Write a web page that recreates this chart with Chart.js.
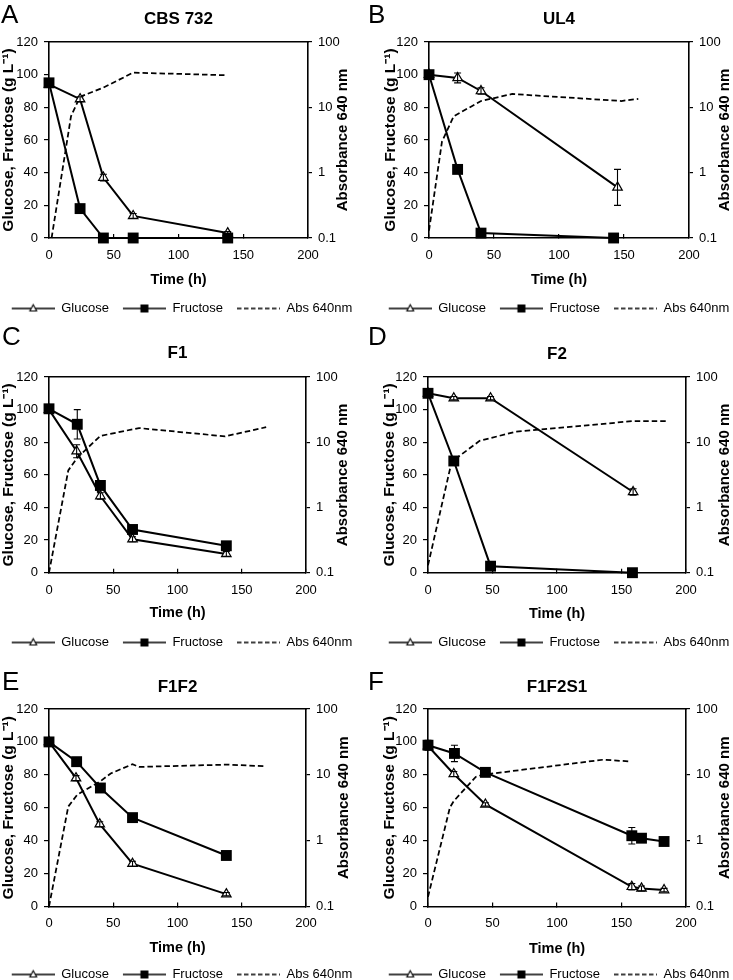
<!DOCTYPE html>
<html>
<head>
<meta charset="utf-8">
<script src="https://cdn.jsdelivr.net/npm/chart.js@4.4.0/dist/chart.umd.min.js"></script>
<style>
  html, body { margin: 0; padding: 0; background: #fff; overflow: hidden; }
  #page { position: relative; width: 733px; height: 980px; overflow: hidden;
          font-family: "Liberation Sans", Arial, Helvetica, sans-serif; }
  canvas { position: absolute; }
  .letter { position: absolute; font-size: 26px; line-height: 1; color: #000; }
</style>
</head>
<body>
<div id="page">
  <canvas id="chartA" width="366" height="325" style="left:0;top:0"></canvas>
  <canvas id="chartB" width="367" height="325" style="left:366px;top:0"></canvas>
  <canvas id="chartC" width="366" height="339" style="left:0;top:320px"></canvas>
  <canvas id="chartD" width="367" height="339" style="left:366px;top:320px"></canvas>
  <canvas id="chartE" width="366" height="341" style="left:0;top:650px"></canvas>
  <canvas id="chartF" width="367" height="341" style="left:366px;top:650px"></canvas>
  <div class="letter" style="left:1px;top:1px">A</div>
  <div class="letter" style="left:368px;top:1px">B</div>
  <div class="letter" style="left:2px;top:323px">C</div>
  <div class="letter" style="left:368px;top:323px">D</div>
  <div class="letter" style="left:2px;top:668px">E</div>
  <div class="letter" style="left:368px;top:668px">F</div>
</div>
<script>
// ---- data ----
// A: CBS 732
var cbsGlucoseTime = [0, 24, 42, 65, 138];
var cbsGlucose = [94, 85, 37, 13.5, 3];
var cbsGlucoseErr = [0, 1.5, 2, 1.5, 1];
var cbsFructoseTime = [0, 24, 42, 65, 138];
var cbsFructose = [95, 18, 0, 0, 0];
var cbsFructoseErr = [0, 0, 0, 0, 0];
var cbsAbsTime = [2, 17, 24, 42, 65, 137];
var cbsAbs = [0.1, 7.3, 14.5, 20, 34, 31];

// B: UL4
var ul4GlucoseTime = [0, 22, 40, 145];
var ul4Glucose = [100, 98, 90, 31];
var ul4GlucoseErr = [0, 3, 2, 11];
var ul4FructoseTime = [0, 22, 40, 142];
var ul4Fructose = [100, 42, 3, 0];
var ul4FructoseErr = [0, 0, 0, 0];
var ul4AbsTime = [0, 10, 19, 40, 64, 148, 161];
var ul4Abs = [0.13, 3, 7.3, 12.5, 16, 12.5, 13.5];

// C: F1
var f1GlucoseTime = [0, 21.5, 40, 65, 138];
var f1Glucose = [100, 74.5, 47, 20.5, 11.5];
var f1GlucoseErr = [0, 4, 2, 1.5, 1.5];
var f1FructoseTime = [0, 22, 40, 65, 138];
var f1Fructose = [100.5, 91, 53.5, 26.5, 16.5];
var f1FructoseErr = [0, 9, 2, 1, 1];
var f1AbsTime = [0, 15, 22, 40, 70, 137, 169];
var f1Abs = [0.1, 3.7, 5.8, 12.5, 16.5, 12.3, 17];

// D: F2
var f2GlucoseTime = [0, 20, 48.5, 159];
var f2Glucose = [110, 107, 107, 49.5];
var f2GlucoseErr = [0, 1, 1, 2];
var f2FructoseTime = [0, 20, 48.5, 158.5];
var f2Fructose = [110, 68.5, 4, 0];
var f2FructoseErr = [0, 2, 0.5, 0];
var f2AbsTime = [0, 18, 21, 40, 68, 100, 158, 185];
var f2Abs = [0.13, 4.7, 5.5, 10.5, 14.5, 16.5, 21, 21];

// E: F1F2
var f1f2GlucoseTime = [0, 21, 39.5, 65, 138];
var f1f2Glucose = [100, 78, 50, 26, 7.5];
var f1f2GlucoseErr = [0, 1.5, 1.5, 1.5, 1];
var f1f2FructoseTime = [0, 21.5, 40, 65, 138];
var f1f2Fructose = [100, 88, 72, 54, 31];
var f1f2FructoseErr = [0, 0, 0, 0, 0];
var f1f2AbsTime = [0, 15, 22, 40, 48, 65, 70, 140, 167];
var f1f2Abs = [0.1, 3.3, 5, 8, 10.5, 14.5, 13.2, 14.3, 13.5];

// F: F1F2S1
var f1f2s1GlucoseTime = [0, 20, 44.5, 158, 165.5, 183];
var f1f2s1Glucose = [97.5, 80.5, 62, 12, 11, 10];
var f1f2s1GlucoseErr = [1, 1.5, 1, 2, 1.5, 1];
var f1f2s1FructoseTime = [0, 20.5, 44.5, 158, 165.5, 183];
var f1f2s1Fructose = [98, 93, 81.5, 43, 41.5, 39.5];
var f1f2s1FructoseErr = [3, 5, 1, 5, 2, 1];
var f1f2s1AbsTime = [0, 17, 20, 37, 42, 136, 156];
var f1f2s1Abs = [0.14, 3.2, 4, 9.3, 10, 17, 16];

var absTicks = [0.1, 1, 10, 100];
var seriesNames = ["Glucose", "Fructose", "Abs 640nm"];

// ---- helpers ----
var FONT = "'Liberation Sans', Arial, Helvetica, sans-serif";
Chart.defaults.font.family = FONT;
Chart.defaults.color = '#000';

function pts(t, v) {
  return t.map(function (x, i) { return { x: x, y: v[i] }; });
}

// legend sample: line with marker in the middle (left 10px are spacing)
function legendIcon(kind) {
  var c = document.createElement('canvas');
  c.width = 53; c.height = 14;
  var g = c.getContext('2d');
  g.strokeStyle = '#000';
  g.lineWidth = 1.7;
  if (kind === 'abs') g.setLineDash([4.5, 2.5]);
  g.beginPath(); g.moveTo(10, 7); g.lineTo(53, 7); g.stroke();
  g.setLineDash([]);
  if (kind === 'glc') {
    g.beginPath();
    g.moveTo(31.5, 3.2); g.lineTo(34.9, 9.5); g.lineTo(28.1, 9.5); g.closePath();
    g.fillStyle = '#fff'; g.fill();
    g.lineWidth = 1.1; g.stroke();
  }
  if (kind === 'fru') {
    g.fillStyle = '#000';
    g.fillRect(27.5, 3, 8, 8);
  }
  return c;
}
var icons = { glc: legendIcon('glc'), fru: legendIcon('fru'), abs: legendIcon('abs') };

var errorBars = {
  id: 'errorBars',
  afterDatasetsDraw: function (chart) {
    var ctx = chart.ctx, ys = chart.scales.y;
    chart.data.datasets.forEach(function (ds, i) {
      if (!ds.errors) return;
      var meta = chart.getDatasetMeta(i);
      ctx.save();
      ctx.strokeStyle = '#000';
      ctx.lineWidth = 1.1;
      meta.data.forEach(function (pt, j) {
        var e = ds.errors[j];
        if (!e) return;
        var y1 = ys.getPixelForValue(ds.data[j].y + e);
        var y2 = ys.getPixelForValue(ds.data[j].y - e);
        ctx.beginPath();
        ctx.moveTo(pt.x, y1); ctx.lineTo(pt.x, y2);
        ctx.moveTo(pt.x - 3.5, y1); ctx.lineTo(pt.x + 3.5, y1);
        ctx.moveTo(pt.x - 3.5, y2); ctx.lineTo(pt.x + 3.5, y2);
        ctx.stroke();
      });
      ctx.restore();
    });
  }
};

// right axis title reads bottom-to-top like the left one
var rightTitle = {
  id: 'rightTitle',
  afterDraw: function (chart, args, opts) {
    var sc = chart.scales.y2, ctx = chart.ctx;
    ctx.save();
    ctx.translate(opts.x, (sc.top + sc.bottom) / 2);
    ctx.rotate(-Math.PI / 2);
    ctx.font = 'bold 15px ' + FONT;
    ctx.fillStyle = '#000';
    ctx.textAlign = 'center';
    ctx.textBaseline = 'middle';
    ctx.fillText(opts.text, 0, 0);
    ctx.restore();
  }
};

function makePanel(id, title, s, g) {
  var boxMid = g.legendX - 3;
  var padL = boxMid - 200;
  var padR = g.w - (boxMid + 200);
  var rightEdge = g.w - padR;
  var tickFont = { size: 13 };
  var axisFont = { size: 14.5, weight: 'bold' };
  var yFont = { size: 15.5, weight: 'bold' };

  new Chart(document.getElementById(id), {
    type: 'line',
    data: {
      datasets: [{
        label: seriesNames[0],
        data: pts(s.gt, s.g), errors: s.ge,
        xAxisID: 'x', yAxisID: 'y', order: 1,
        borderColor: '#000', borderWidth: 2,
        pointStyle: 'triangle', pointRadius: 5.5,
        pointBackgroundColor: '#fff', pointBorderColor: '#000', pointBorderWidth: 1.2,
        clip: false
      }, {
        label: seriesNames[1],
        data: pts(s.ft, s.f), errors: s.fe,
        xAxisID: 'x', yAxisID: 'y', order: 0,
        borderColor: '#000', borderWidth: 2,
        pointStyle: 'rect', pointRadius: 7.7,
        pointBackgroundColor: '#000', pointBorderColor: '#000', pointBorderWidth: 0,
        clip: false
      }, {
        label: seriesNames[2],
        data: pts(s.at, s.a),
        xAxisID: 'x', yAxisID: 'y2', order: 2,
        borderColor: '#000', borderWidth: 1.75, borderDash: [5.5, 3],
        pointRadius: 0, clip: false
      }]
    },
    options: {
      responsive: false,
      animation: false,
      events: [],
      layout: { padding: { left: padL, right: padR, top: 0, bottom: 0 } },
      plugins: {
        title: {
          display: true, text: title, fullSize: false, color: '#000',
          font: { size: 17, weight: 'bold' },
          padding: { top: g.titleY - 10.2, bottom: g.T - 20.4 - (g.titleY - 10.2) }
        },
        legend: {
          position: 'bottom',
          labels: {
            usePointStyle: true, pointStyleWidth: 53, padding: 4,
            font: { size: 13 }, color: '#000',
            generateLabels: function () {
              return [
                { text: seriesNames[0], pointStyle: icons.glc, datasetIndex: 0, fontColor: '#000', lineWidth: 0, hidden: false },
                { text: seriesNames[1], pointStyle: icons.fru, datasetIndex: 1, fontColor: '#000', lineWidth: 0, hidden: false },
                { text: seriesNames[2], pointStyle: icons.abs, datasetIndex: 2, fontColor: '#000', lineWidth: 0, hidden: false }
              ];
            }
          }
        },
        tooltip: { enabled: false },
        rightTitle: { text: 'Absorbance 640 nm', x: g.y2TitleX }
      },
      scales: {
        x: {
          type: 'linear', position: 'bottom', min: 0, max: 200,
          ticks: { stepSize: 50, font: tickFont, padding: 13.5, color: '#000', maxRotation: 0 },
          grid: { drawOnChartArea: false, tickLength: -4, color: '#000', lineWidth: 1.2 },
          border: { color: '#000', width: 1.6 },
          title: { display: true, text: 'Time (h)', font: axisFont, color: '#000',
                   padding: { top: 0, bottom: g.legendY - 10.5 - 8.7 - g.xTitleY } },
          afterFit: function (sc) { sc.height = g.legendY - 10.5 - g.B; }
        },
        xTop: {
          type: 'linear', position: 'top', min: 0, max: 200,
          ticks: { display: false },
          grid: { drawOnChartArea: false, drawTicks: false },
          border: { color: '#000', width: 1.5 },
          afterFit: function (sc) { sc.height = 0; }
        },
        y: {
          position: 'left', min: 0, max: 120,
          ticks: { stepSize: 20, font: tickFont, padding: 6, color: '#000' },
          grid: { drawOnChartArea: false, tickLength: 5, color: '#000', lineWidth: 1.2 },
          border: { color: '#000', width: 1.6 },
          title: { display: true, text: 'Glucose, Fructose (g L\u207B\u00B9)', font: yFont, color: '#000',
                   padding: { top: g.yTitleX - 9.3 - padL, bottom: 0 } },
          afterFit: function (sc) { sc.width = g.L - padL; }
        },
        y2: {
          type: 'logarithmic', position: 'right', min: 0.1, max: 100,
          afterBuildTicks: function (sc) {
            sc.ticks = absTicks.map(function (v) { return { value: v }; });
          },
          ticks: { font: tickFont, padding: 6, color: '#000',
                   callback: function (v) { return String(v); } },
          grid: { drawOnChartArea: false, tickLength: 4, color: '#000', lineWidth: 1.2 },
          border: { color: '#000', width: 1.6 },
          afterFit: function (sc) { sc.width = rightEdge - g.R; }
        }
      }
    },
    plugins: [errorBars, rightTitle]
  });
}

// ---- panels ----
makePanel('chartA', 'CBS 732',
  { gt: cbsGlucoseTime, g: cbsGlucose, ge: cbsGlucoseErr, ft: cbsFructoseTime, f: cbsFructose, fe: cbsFructoseErr, at: cbsAbsTime, a: cbsAbs },
  { w: 366, L: 49, R: 308, T: 42, B: 238, titleY: 19.5, xTitleY: 280, legendY: 308.5, legendX: 180, yTitleX: 8.5, y2TitleX: 343 });
makePanel('chartB', 'UL4',
  { gt: ul4GlucoseTime, g: ul4Glucose, ge: ul4GlucoseErr, ft: ul4FructoseTime, f: ul4Fructose, fe: ul4FructoseErr, at: ul4AbsTime, a: ul4Abs },
  { w: 367, L: 63, R: 323, T: 42, B: 238, titleY: 19.5, xTitleY: 280, legendY: 308.5, legendX: 191, yTitleX: 25, y2TitleX: 358.5 });
makePanel('chartC', 'F1',
  { gt: f1GlucoseTime, g: f1Glucose, ge: f1GlucoseErr, ft: f1FructoseTime, f: f1Fructose, fe: f1FructoseErr, at: f1AbsTime, a: f1Abs },
  { w: 366, L: 49, R: 306, T: 57, B: 252.5, titleY: 33.5, xTitleY: 292.7, legendY: 322.3, legendX: 180, yTitleX: 8.5, y2TitleX: 343.3 });
makePanel('chartD', 'F2',
  { gt: f2GlucoseTime, g: f2Glucose, ge: f2GlucoseErr, ft: f2FructoseTime, f: f2Fructose, fe: f2FructoseErr, at: f2AbsTime, a: f2Abs },
  { w: 367, L: 62, R: 320, T: 57, B: 252.5, titleY: 34, xTitleY: 293.5, legendY: 322.3, legendX: 191, yTitleX: 23.5, y2TitleX: 359 });
makePanel('chartE', 'F1F2',
  { gt: f1f2GlucoseTime, g: f1f2Glucose, ge: f1f2GlucoseErr, ft: f1f2FructoseTime, f: f1f2Fructose, fe: f1f2FructoseErr, at: f1f2AbsTime, a: f1f2Abs },
  { w: 366, L: 49, R: 306, T: 59, B: 256, titleY: 37, xTitleY: 297, legendY: 324, legendX: 180, yTitleX: 8.5, y2TitleX: 343.5 });
makePanel('chartF', 'F1F2S1',
  { gt: f1f2s1GlucoseTime, g: f1f2s1Glucose, ge: f1f2s1GlucoseErr, ft: f1f2s1FructoseTime, f: f1f2s1Fructose, fe: f1f2s1FructoseErr, at: f1f2s1AbsTime, a: f1f2s1Abs },
  { w: 367, L: 62, R: 320, T: 59, B: 256, titleY: 37, xTitleY: 298, legendY: 324, legendX: 191, yTitleX: 23.5, y2TitleX: 359 });
</script>
</body>
</html>
